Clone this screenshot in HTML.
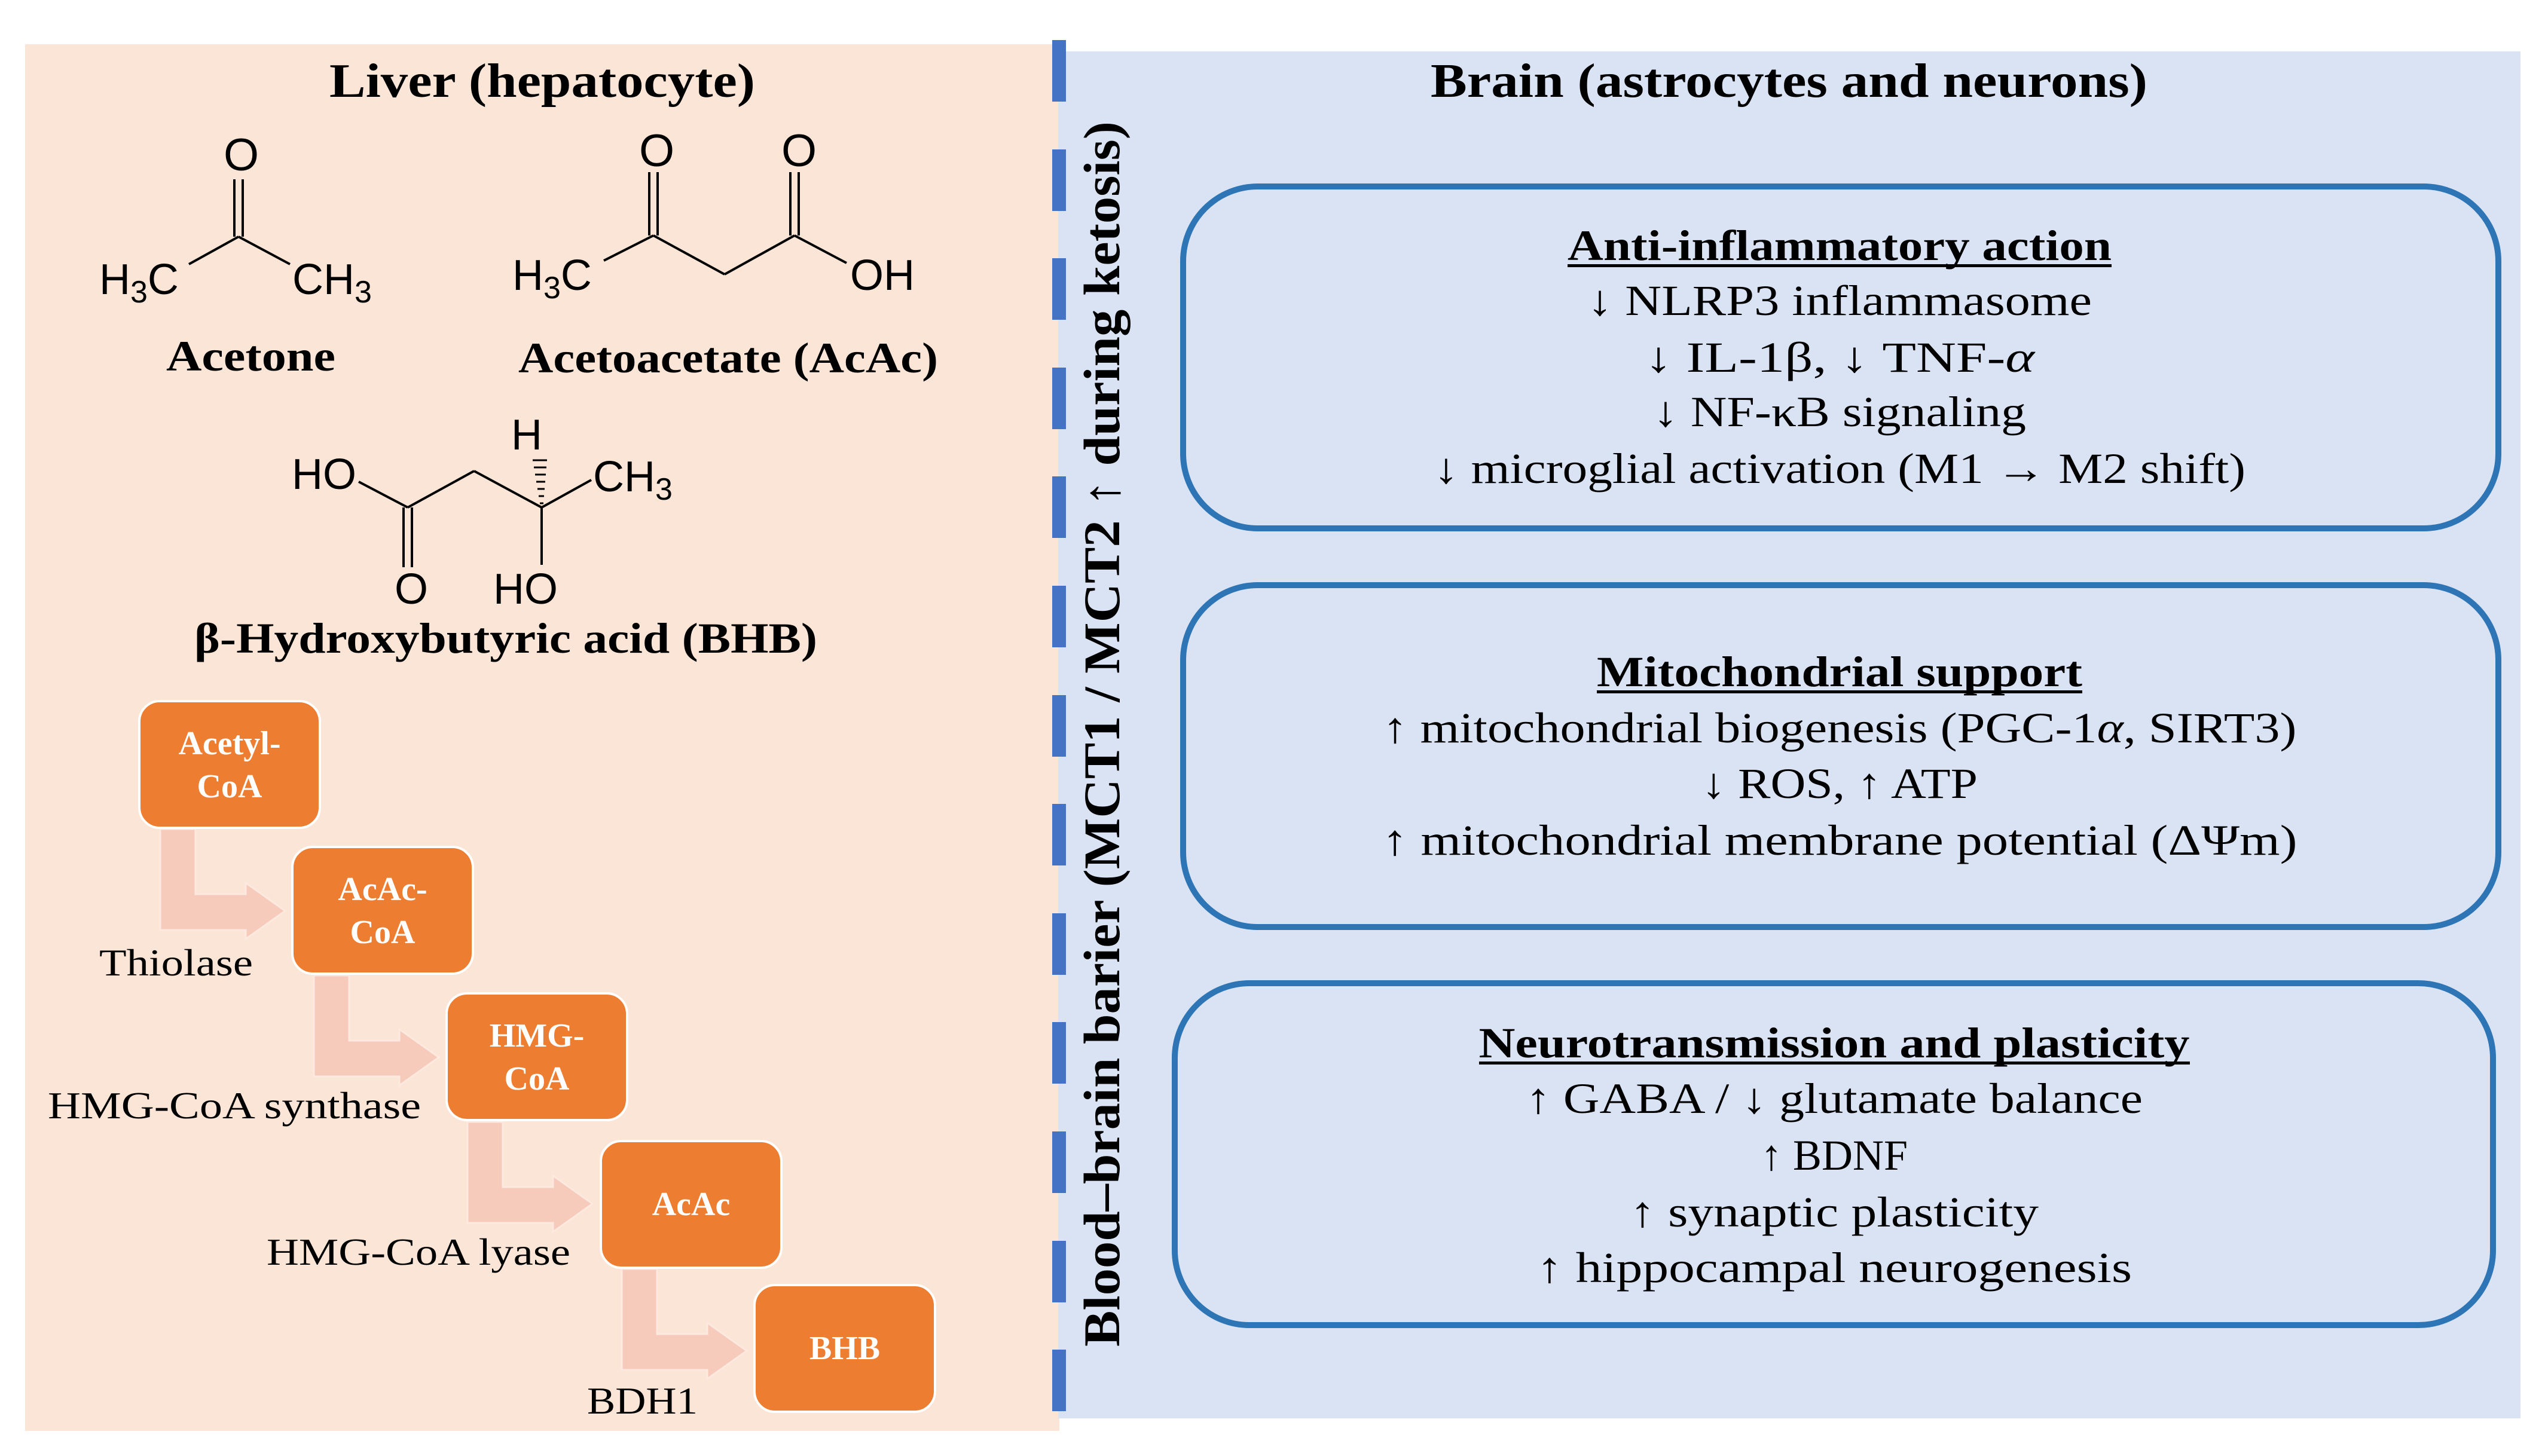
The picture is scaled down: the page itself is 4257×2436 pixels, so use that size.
<!DOCTYPE html>
<html><head><meta charset="utf-8"><style>
html,body{margin:0;padding:0;background:#fff;width:4257px;height:2436px;overflow:hidden}
svg{display:block}
</style></head><body>
<svg width="4257" height="2436" viewBox="0 0 4257 2436" xmlns="http://www.w3.org/2000/svg">
<rect x="0" y="0" width="4257" height="2436" fill="#fff"/>
<rect x="42" y="74" width="1730" height="2320" fill="#fbe5d6"/>
<rect x="1770" y="86" width="2446" height="2287" fill="#dae3f3"/>
<g fill="#4472c4">
<rect x="1760" y="67" width="23" height="103"/><rect x="1760" y="250" width="23" height="103"/><rect x="1760" y="432" width="23" height="103"/><rect x="1760" y="615" width="23" height="103"/><rect x="1760" y="797" width="23" height="103"/><rect x="1760" y="980" width="23" height="103"/><rect x="1760" y="1163" width="23" height="103"/><rect x="1760" y="1345" width="23" height="103"/><rect x="1760" y="1528" width="23" height="103"/><rect x="1760" y="1710" width="23" height="103"/><rect x="1760" y="1893" width="23" height="103"/><rect x="1760" y="2076" width="23" height="103"/><rect x="1760" y="2258" width="23" height="103"/>
</g>
<text transform="translate(1872,2253) rotate(-90)" font-family="Liberation Serif, serif" font-weight="bold" font-size="86" textLength="2050" lengthAdjust="spacingAndGlyphs" fill="#000">Blood–brain barier (MCT1 / MCT2 ↑ during ketosis)</text>

<g font-family="Liberation Serif, serif" font-weight="bold" fill="#000">
<text x="551" y="162" font-size="80" textLength="712" lengthAdjust="spacingAndGlyphs">Liver (hepatocyte)</text>
<text x="2393" y="162" font-size="80" textLength="1199" lengthAdjust="spacingAndGlyphs">Brain (astrocytes and neurons)</text>
<text x="278" y="620" font-size="72" textLength="283" lengthAdjust="spacingAndGlyphs">Acetone</text>
<text x="867" y="623" font-size="72" textLength="702" lengthAdjust="spacingAndGlyphs">Acetoacetate (AcAc)</text>
<text x="325" y="1092" font-size="72" textLength="1042" lengthAdjust="spacingAndGlyphs">β-Hydroxybutyric acid (BHB)</text>
</g>

<g stroke="#000" stroke-width="4" fill="none">
<line x1="316" y1="442" x2="399" y2="396"/><line x1="399" y1="396" x2="485" y2="442"/>
<line x1="392" y1="396" x2="392" y2="300"/><line x1="406" y1="396" x2="406" y2="300"/>
<line x1="1010" y1="436" x2="1093" y2="394"/><line x1="1093" y1="394" x2="1212" y2="459"/><line x1="1212" y1="459" x2="1329" y2="394"/><line x1="1329" y1="394" x2="1416" y2="440"/>
<line x1="1086" y1="394" x2="1086" y2="288"/><line x1="1100" y1="394" x2="1100" y2="288"/>
<line x1="1322" y1="394" x2="1322" y2="288"/><line x1="1336" y1="394" x2="1336" y2="288"/>
<line x1="600" y1="806" x2="682" y2="849"/><line x1="682" y1="849" x2="793" y2="788"/><line x1="793" y1="788" x2="906" y2="849"/><line x1="906" y1="849" x2="989" y2="803"/>
<line x1="675" y1="849" x2="675" y2="949"/><line x1="689" y1="849" x2="689" y2="949"/>
<line x1="906" y1="849" x2="906" y2="945"/>
</g>
<g stroke="#000" stroke-width="3">
<line x1="903" y1="842" x2="909" y2="842"/><line x1="901" y1="830" x2="910" y2="830"/><line x1="899" y1="818" x2="911" y2="818"/><line x1="897" y1="806" x2="912" y2="806"/><line x1="895" y1="794" x2="913" y2="794"/><line x1="893" y1="782" x2="914" y2="782"/><line x1="891" y1="770" x2="915" y2="770"/>
</g>
<g font-family="Liberation Sans, sans-serif" font-size="72" fill="#000">
<text x="374" y="285" font-size="76">O</text>
<text x="166" y="492">H<tspan font-size="52" dy="14">3</tspan><tspan dy="-14">C</tspan></text>
<text x="489" y="492">CH<tspan font-size="52" dy="14">3</tspan></text>
<text x="857" y="485">H<tspan font-size="52" dy="14">3</tspan><tspan dy="-14">C</tspan></text>
<text x="1069" y="278" font-size="76">O</text>
<text x="1307" y="278" font-size="76">O</text>
<text x="1422" y="485">OH</text>
<text x="488" y="818">HO</text>
<text x="855" y="752">H</text>
<text x="992" y="822">CH<tspan font-size="52" dy="14">3</tspan></text>
<text x="660" y="1010">O</text>
<text x="825" y="1010">HO</text>
</g>

<defs>
<g id="arr"><polygon points="268,1387 327,1387 327,1496 411,1496 411,1477 477,1524 411,1571 411,1556 268,1556" fill="#f6cbbb" stroke="#fde9df" stroke-width="3"/></g>
</defs>
<use href="#arr"/>
<use href="#arr" transform="translate(257,245)"/>
<use href="#arr" transform="translate(514,490)"/>
<use href="#arr" transform="translate(772,736)"/>
<g fill="#ed7d31" stroke="#fff" stroke-width="4">
<rect x="233" y="1173" width="302" height="212" rx="34"/>
<rect x="489" y="1417" width="302" height="212" rx="34"/>
<rect x="747" y="1662" width="302" height="212" rx="34"/>
<rect x="1005" y="1909" width="302" height="212" rx="34"/>
<rect x="1262" y="2150" width="302" height="212" rx="34"/>
</g>
<g font-family="Liberation Serif, serif" font-weight="bold" font-size="56" fill="#fff" text-anchor="middle">
<text x="384" y="1262">Acetyl-</text><text x="384" y="1334">CoA</text>
<text x="640" y="1506">AcAc-</text><text x="640" y="1578">CoA</text>
<text x="898" y="1751">HMG-</text><text x="898" y="1823">CoA</text>
<text x="1156" y="2033">AcAc</text>
<text x="1413" y="2274">BHB</text>
</g>
<g font-family="Liberation Serif, serif" font-size="64" fill="#000">
<text x="166" y="1632" textLength="257" lengthAdjust="spacingAndGlyphs">Thiolase</text>
<text x="80" y="1871" textLength="624" lengthAdjust="spacingAndGlyphs">HMG-CoA synthase</text>
<text x="446" y="2116" textLength="508" lengthAdjust="spacingAndGlyphs">HMG-CoA lyase</text>
<text x="982" y="2365" textLength="185" lengthAdjust="spacingAndGlyphs">BDH1</text>
</g>

<g fill="none" stroke="#2e75b6" stroke-width="10">
<rect x="1979" y="312" width="2200" height="572" rx="125"/>
<rect x="1979" y="979" width="2200" height="572" rx="125"/>
<rect x="1965" y="1645" width="2205" height="572" rx="125"/>
</g>
<g font-family="Liberation Serif, serif" font-size="72" fill="#000" text-anchor="middle">
<text x="3077" y="435" font-weight="bold" textLength="910" lengthAdjust="spacingAndGlyphs">Anti-inflammatory action</text>
<rect x="2622" y="442" width="910" height="5" fill="#000"/>
<text x="3077" y="527" textLength="844" lengthAdjust="spacingAndGlyphs">↓ NLRP3 inflammasome</text>
<text x="3077" y="622" textLength="652" lengthAdjust="spacingAndGlyphs">↓ IL-1β, ↓ TNF-<tspan font-style="italic">α</tspan></text>
<text x="3077" y="713" textLength="624" lengthAdjust="spacingAndGlyphs">↓ NF-κB signaling</text>
<text x="3077" y="808" textLength="1358" lengthAdjust="spacingAndGlyphs">↓ microglial activation (M1 → M2 shift)</text>

<text x="3077" y="1148" font-weight="bold" textLength="812" lengthAdjust="spacingAndGlyphs">Mitochondrial support</text>
<rect x="2671" y="1155" width="812" height="5" fill="#000"/>
<text x="3077" y="1242" textLength="1529" lengthAdjust="spacingAndGlyphs">↑ mitochondrial biogenesis (PGC-1<tspan font-style="italic">α</tspan>, SIRT3)</text>
<text x="3077" y="1335" textLength="462" lengthAdjust="spacingAndGlyphs">↓ ROS, ↑ ATP</text>
<text x="3077" y="1430" textLength="1531" lengthAdjust="spacingAndGlyphs">↑ mitochondrial membrane potential (ΔΨm)</text>

<text x="3068" y="1769" font-weight="bold" textLength="1189" lengthAdjust="spacingAndGlyphs">Neurotransmission and plasticity</text>
<rect x="2474" y="1776" width="1189" height="5" fill="#000"/>
<text x="3068" y="1862" textLength="1032" lengthAdjust="spacingAndGlyphs">↑ GABA / ↓ glutamate balance</text>
<text x="3068" y="1957">↑ BDNF</text>
<text x="3068" y="2052" textLength="684" lengthAdjust="spacingAndGlyphs">↑ synaptic plasticity</text>
<text x="3068" y="2145" textLength="996" lengthAdjust="spacingAndGlyphs">↑ hippocampal neurogenesis</text>
</g>
</svg>
</body></html>
